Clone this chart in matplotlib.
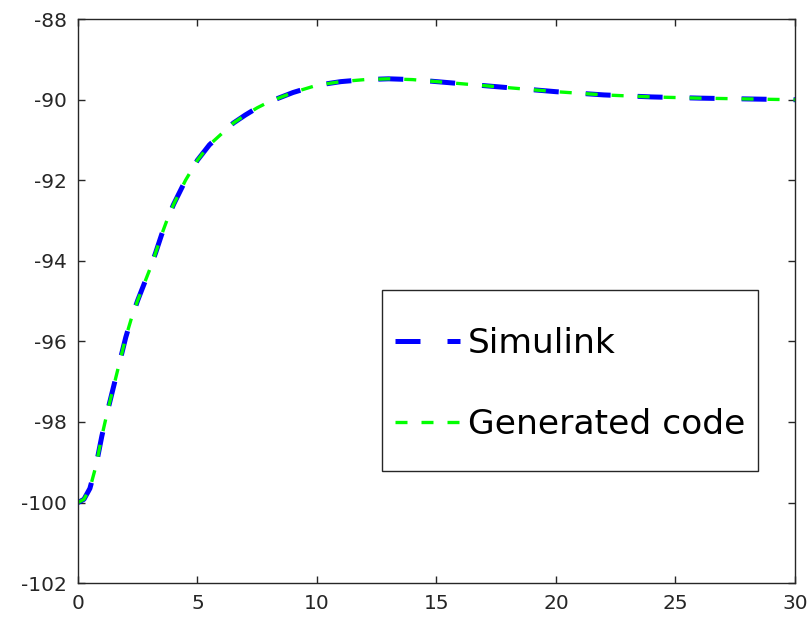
import numpy as np
import matplotlib.pyplot as plt
from matplotlib.path import Path

plt.rcParams['axes.unicode_minus'] = False

# Datos (respuesta al escalon)
t = [0, 0.25, 0.5, 0.75, 1.0, 1.25, 1.5, 1.75, 2.0, 2.25, 2.5, 2.75, 3.0, 3.25,
     3.5, 3.75, 4.0, 4.5, 5.0, 5.5, 6.0, 6.5, 7.0, 7.5, 8.0, 9.0, 10, 11, 12,
     13, 14, 15, 16, 17, 18, 19, 20, 22, 24, 26, 28, 30]
simulink = [-100, -99.92, -99.65, -99.1, -98.35, -97.7, -97.1, -96.5, -95.9,
            -95.4, -94.98, -94.6, -94.22, -93.8, -93.35, -92.95, -92.6, -92.0,
            -91.5, -91.12, -90.85, -90.58, -90.38, -90.2, -90.05, -89.82, -89.64,
            -89.55, -89.5, -89.48, -89.5, -89.55, -89.6, -89.65, -89.7, -89.75,
            -89.8, -89.88, -89.93, -89.96, -89.98, -90.0]
generated = list(simulink)

xticks = [0, 5, 10, 15, 20, 25, 30]
yticks = [-102, -100, -98, -96, -94, -92, -90, -88]

fig = plt.figure(figsize=(8.12, 6.19), dpi=100)
ax = fig.add_axes([0.096, 0.058, 0.883, 0.911])

ax.plot(t, simulink, color='#0000ff', linewidth=3.6, linestyle=(0, (5.0, 5.4)),
        label='Simulink')
ax.plot(t, generated, color='#00ff00', linewidth=2.4, linestyle=(0, (3.6, 4.2)),
        label='Generated code')

ax.set_xlim(0, 30)
ax.set_ylim(-102, -88)
ax.set_xticks(xticks)
ax.set_yticks(yticks)
ax.tick_params(direction='in', top=True, right=True, length=5, width=1,
               labelsize=14.5, colors='#262626', pad=8)
for s in ax.spines.values():
    s.set_color('#262626')
    s.set_linewidth(1)


# marco de la leyenda con relleno vertical extra (arriba un poco mas)
def tall_box(x0, y0, width, height, mutation_size):
    eb = 0.50 * mutation_size
    et = 0.70 * mutation_size
    x1, y1 = x0 + width, y0 + height
    return Path([(x0, y0 - eb), (x1, y0 - eb), (x1, y1 + et), (x0, y1 + et),
                 (x0, y0 - eb)], closed=True)


leg = ax.legend(loc='lower left', bbox_to_anchor=(0.424, 0.2287), borderaxespad=0,
                fontsize=24.8, fancybox=False, framealpha=1, edgecolor='#262626',
                handlelength=1.88, handletextpad=0.23, labelspacing=1.39,
                borderpad=0.38)
leg.get_frame().set_linewidth(1)
leg.legendPatch.set_boxstyle(tall_box)

fig.savefig('out.png', dpi=100)
